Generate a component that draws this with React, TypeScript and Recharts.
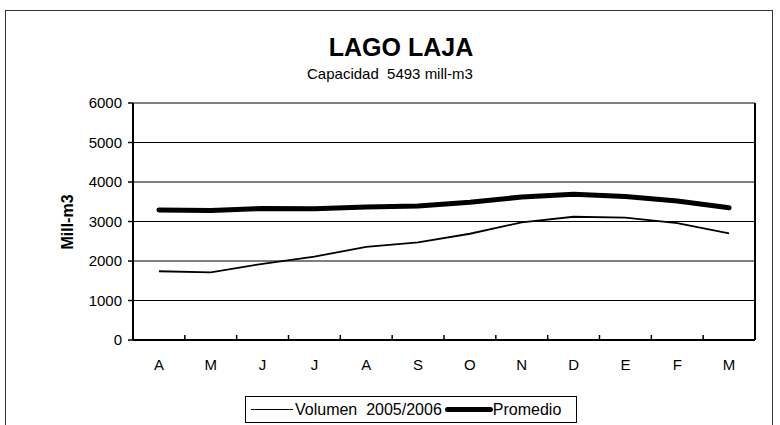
import React from "react";
import { LineChart, Line, XAxis, YAxis, CartesianGrid } from "recharts";

const months = ["A", "M", "J", "J", "A", "S", "O", "N", "D", "E", "F", "M"];
const volumen = [1740, 1710, 1930, 2110, 2360, 2470, 2690, 2980, 3120, 3100, 2960, 2700];
const promedio = [3290, 3280, 3330, 3320, 3370, 3390, 3490, 3620, 3690, 3630, 3520, 3350];
const yTicks = [0, 1000, 2000, 3000, 4000, 5000, 6000];

const TITLE = "LAGO LAJA";
const SUBTITLE = "Capacidad  5493 mill-m3";
const Y_LABEL = "Mill-m3";
const S1 = "Volumen  2005/2006";
const S2 = "Promedio";

const data = months.map((m, i) => ({ i, m, volumen: volumen[i], promedio: promedio[i] }));
const xTicks = months.map((_, i) => i);

const W = 780;
const H = 425;
const X_AXIS_H = 30;
const MARGIN = { top: 103, right: 24, bottom: 85 - X_AXIS_H, left: 73 };
const AXIS_Y = H - 85;
const FONT = "'Liberation Sans', Arial, sans-serif";

const XTick = (props: any) => {
  const { x, payload, index, width, visibleTicksCount } = props;
  const half = width / visibleTicksCount / 2;
  return (
    <g>
      <text x={x} y={AXIS_Y + 30} textAnchor="middle" fontSize={15} fill="#000" fontFamily={FONT}>
        {months[payload.value]}
      </text>
      {index < visibleTicksCount - 1 && (
        <line x1={x + half} x2={x + half} y1={AXIS_Y} y2={AXIS_Y - 5} stroke="#000" strokeWidth={1.5} />
      )}
    </g>
  );
};

export default function App() {
  return (
    <div style={{ position: "absolute", left: 0, top: 0, width: W, height: H, background: "#fff", fontFamily: FONT, overflow: "hidden" }}>
      <div style={{ position: "absolute", left: 5, top: 10, width: 766, height: 430, border: "1.5px solid #333" }} />
      <div style={{ position: "absolute", left: 401, top: 32, transform: "translateX(-50%)", fontSize: 25, fontWeight: "bold", whiteSpace: "nowrap", lineHeight: "30px" }}>
        {TITLE}
      </div>
      <div style={{ position: "absolute", left: 390, top: 65, transform: "translateX(-50%)", fontSize: 15, whiteSpace: "pre", lineHeight: "18px" }}>
        {SUBTITLE}
      </div>
      <div style={{ position: "absolute", left: 68, top: 222, transform: "translate(-50%, -50%) rotate(-90deg)", fontSize: 16, fontWeight: "bold", whiteSpace: "nowrap" }}>
        {Y_LABEL}
      </div>
      <div style={{ position: "absolute", left: 0, top: 0 }}>
        <LineChart width={W} height={H} data={data} margin={MARGIN}>
          <CartesianGrid vertical={false} stroke="#000" strokeWidth={1} />
          <XAxis
            dataKey="i"
            type="number"
            domain={[-0.5, months.length - 0.5]}
            ticks={xTicks}
            interval={0}
            height={X_AXIS_H}
            tick={<XTick />}
            tickLine={false}
            axisLine={{ stroke: "#000", strokeWidth: 2 }}
          />
          <YAxis
            width={60}
            domain={[0, 6000]}
            ticks={yTicks}
            interval={0}
            tickSize={5}
            tickMargin={6}
            tick={{ fill: "#000", fontSize: 15, fontFamily: FONT }}
            tickLine={{ stroke: "#000", strokeWidth: 1.5 }}
            axisLine={{ stroke: "#000", strokeWidth: 2 }}
          />
          <YAxis
            yAxisId="right"
            orientation="right"
            width={1}
            domain={[0, 6000]}
            tick={false}
            tickLine={false}
            axisLine={{ stroke: "#000", strokeWidth: 2 }}
          />
          <Line type="linear" dataKey="volumen" stroke="#000" strokeWidth={1.8} dot={false} isAnimationActive={false} />
          <Line type="linear" dataKey="promedio" stroke="#000" strokeWidth={5} dot={false} strokeLinecap="round" isAnimationActive={false} />
        </LineChart>
      </div>
      <div style={{ position: "absolute", left: 245, top: 396, width: 332, height: 27, border: "1.5px solid #000", boxSizing: "border-box", display: "flex", alignItems: "center", fontSize: 16, whiteSpace: "pre" }}>
        <span style={{ display: "inline-block", width: 42, height: 0, borderTop: "1.8px solid #000", marginLeft: 5, marginRight: 2 }} />
        <span>{S1}</span>
        <span style={{ display: "inline-block", width: 48, height: 5, background: "#000", borderRadius: 3, marginLeft: 3 }} />
        <span>{S2}</span>
      </div>
    </div>
  );
}
